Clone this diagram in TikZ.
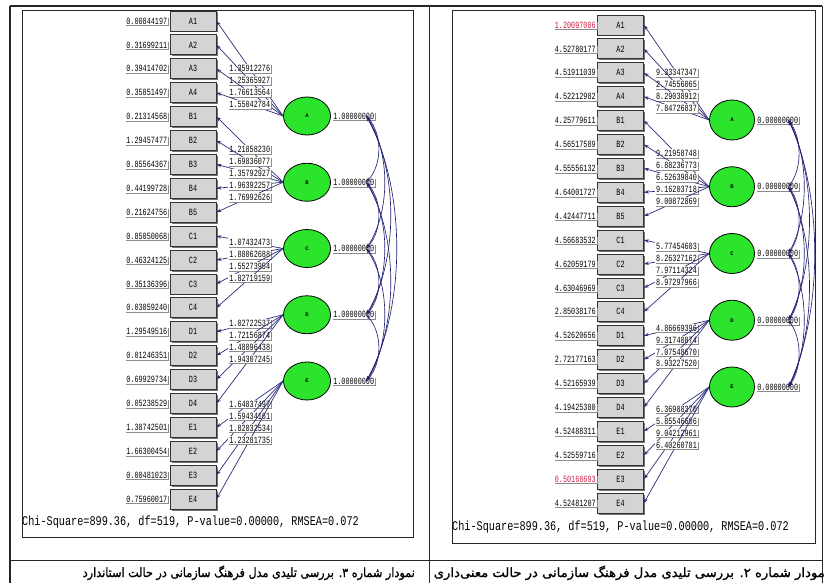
\documentclass[tikz,border=0pt]{standalone}
\usepackage{fontspec}
\setmainfont{Liberation Serif}
\setmonofont{Liberation Mono}
\newfontfamily\arabicfont[Script=Arabic,FakeBold=1.2]{DejaVu Sans}
\usetikzlibrary{shapes.geometric,arrows.meta,shadows,calc}
\TeXXeTstate=1
\definecolor{navy}{RGB}{45,45,125}
\definecolor{covc}{RGB}{35,35,115}
\definecolor{boxfill}{RGB}{212,212,212}
\definecolor{latgreen}{RGB}{45,228,45}
\definecolor{redval}{RGB}{205,30,70}
\newcommand{\tn}[1]{\scalebox{1}[1.4]{\fontsize{6.8}{7}\ttfamily #1}}
\tikzset{
  indbox/.style={draw=black!80, fill=boxfill, line width=0.8pt, minimum width=46pt, minimum height=20pt, inner sep=0pt,
    general shadow={fill=black!55, shadow xshift=1.5pt, shadow yshift=-1.5pt}},
  numlab/.style={fill=white, inner sep=1.1pt,
    general shadow={fill=black!45, shadow xshift=1pt, shadow yshift=-1pt}},
  lat/.style={ellipse, draw=black, fill=latgreen, line width=0.8pt, inner sep=0pt,
    font=\fontsize{5.5}{5.5}\ttfamily\bfseries},
  ldpath/.style={draw=navy, line width=0.7pt, -{Stealth[length=5pt,width=3.4pt]}},
  covpath/.style={draw=covc, line width=0.65pt, {Stealth[length=5pt,width=3.4pt]}-{Stealth[length=5pt,width=3.4pt]}},
  framel/.style={draw=black!85, line width=0.8pt},
}
\begin{document}
\begin{tikzpicture}[x=1pt,y=-1pt]
\useasboundingbox (0,0) rectangle (825,583);
% table lines
\draw[framel, line width=1.1pt] (10,6) -- (822,6);
\draw[framel, line width=1.1pt] (10,6) -- (10,583);
\draw[framel] (429,6) -- (429,583);
\draw[framel] (822,6) -- (822,583);
\draw[framel] (10,560) -- (822,560);
% inner frames
\draw[framel] (22,10) rectangle (413,537);
\draw[framel] (452,10) rectangle (815,543);

% ================= LEFT PANEL =================
\foreach \nm/\v [count=\i from 0] in {A1/0.00844197,A2/0.31699211,A3/0.39414702,A4/0.35851497,
  B1/0.21314568,B2/1.29457477,B3/0.85564367,B4/0.44199728,B5/0.21624756,
  C1/0.85050068,C2/0.46324125,C3/0.35136396,C4/0.03059240,
  D1/1.29549516,D2/0.01246351,D3/0.69929734,D4/0.05238529,
  E1/1.38742501,E2/1.66300454,E3/0.00481023,E4/0.75960017}{
  \node[indbox] (L\nm) at (193,{21+23.9*\i}) {\tn{\nm}};
  \node[numlab, anchor=east] (Le\nm) at (168.5,{21+23.9*\i}) {\tn{\v}};
}
\foreach \l [count=\k from 0] in {A,B,C,D,E}{
  \node[lat, minimum width=47pt, minimum height=38pt] (L\l) at (307,{116+66.25*\k}) {\l};
  \node[numlab, anchor=west] (Lv\l) at (332,{116+66.25*\k}) {\tn{1.00000000}};
  \coordinate (Lc\l) at ($(Lv\l.east)+(-9,0)$);
}
\foreach \l/\nm/\v in {A/A1/1.35912276,A/A2/1.25365927,A/A3/1.76613564,A/A4/1.55042784,
  B/B1/1.21858230,B/B2/1.69836077,B/B3/1.35792927,B/B4/1.96392257,B/B5/1.76992626,
  C/C1/1.07432473,C/C2/1.88062688,C/C3/1.55273954,C/C4/1.82719159,
  D/D1/1.02722537,D/D2/1.72156874,D/D3/1.48096438,D/D4/1.94307245,
  E/E1/1.64837497,E/E2/1.59434161,E/E3/1.82032534,E/E4/1.23281735}{
  \draw[ldpath] (L\l.west) -- node[numlab] {\tn{\v}} (L\nm.east);
}
\foreach \p/\q/\s in {A/B/1,A/C/2,A/D/3,A/E/4,B/C/1,B/D/2,B/E/3,C/D/1,C/E/2,D/E/1}{
  \pgfmathsetmacro\bb{(6+6*\s)/0.75}
  \pgfmathsetmacro\dd{66.25*\s*0.28}
  \draw[covpath] (Lc\p) .. controls +(\bb,\dd) and +(\bb,-\dd) .. (Lc\q);
}
\node[anchor=west, inner sep=0] (chiL) at (22,522)
  {\scalebox{1}[1.3]{\fontsize{10.2}{12}\ttfamily Chi-Square=899.36, df=519, P-value=0.00000, RMSEA=0.072}};

% ================= RIGHT PANEL =================
\foreach \nm/\v/\c [count=\i from 0] in {A1/1.20097006/redval,A2/4.52780177/black,A3/4.51911039/black,A4/4.52212982/black,
  B1/4.25779611/black,B2/4.56517589/black,B3/4.55556132/black,B4/4.64001727/black,B5/4.42447711/black,
  C1/4.56683532/black,C2/4.62059179/black,C3/4.63046969/black,C4/2.85038176/black,
  D1/4.52620656/black,D2/2.72177163/black,D3/4.52165939/black,D4/4.19425380/black,
  E1/4.52488311/black,E2/4.52559716/black,E3/0.50168693/redval,E4/4.52481207/black}{
  \node[indbox] (R\nm) at (620.5,{25+23.9*\i}) {\tn{\nm}};
  \node[numlab, anchor=east, text=\c] (Re\nm) at (597,{25+23.9*\i}) {\tn{\v}};
}
\foreach \l [count=\k from 0] in {A,B,C,D,E}{
  \node[lat, minimum width=45pt, minimum height=40pt] (R\l) at (732,{120+66.75*\k}) {\l};
  \node[numlab, anchor=west] (Rv\l) at (756,{120+66.75*\k}) {\tn{0.00000000}};
  \coordinate (Rc\l) at ($(Rv\l.east)+(-11,0)$);
}
\foreach \l/\nm/\v in {A/A1/9.33347347,A/A2/2.74556065,A/A3/8.29038912,A/A4/7.84726837,
  B/B1/9.21958748,B/B2/6.88236773,B/B3/6.52639840,B/B4/9.16203718,B/B5/9.00872869,
  C/C1/5.77454603,C/C2/8.26327162,C/C3/7.97114324,C/C4/8.97297966,
  D/D1/4.86669396,D/D2/9.31740874,D/D3/7.07548670,D/D4/8.93227520,
  E/E1/6.36988370,E/E2/5.85546606,E/E3/9.04212961,E/E4/6.40260781}{
  \draw[ldpath] (R\l.west) -- node[numlab] {\tn{\v}} (R\nm.east);
}
\foreach \p/\q/\s in {A/B/1,A/C/2,A/D/3,A/E/4,B/C/1,B/D/2,B/E/3,C/D/1,C/E/2,D/E/1}{
  \pgfmathsetmacro\bb{(5+5.25*\s)/0.75}
  \pgfmathsetmacro\dd{66.75*\s*0.28}
  \draw[covpath] (Rc\p) .. controls +(\bb,\dd) and +(\bb,-\dd) .. (Rc\q);
}
\node[anchor=west, inner sep=0] (chiR) at (452,527)
  {\scalebox{1}[1.3]{\fontsize{10.2}{12}\ttfamily Chi-Square=899.36, df=519, P-value=0.00000, RMSEA=0.072}};

% ================= CAPTIONS =================
\node[anchor=base east, inner sep=0] (capL) at (415,577)
  {\resizebox{332pt}{11.5pt}{\arabicfont\beginR نمودار شماره ۳. بررسی تلیدی مدل فرهنگ سازمانی در حالت استاندارد\endR}};
\node[anchor=base east, inner sep=0] (capR) at (825,577)
  {\resizebox{391pt}{11.5pt}{\arabicfont\beginR مودار شماره ۲. بررسی تلیدی مدل فرهنگ سازمانی در حالت معنی^^^^200cداری\endR}};
\end{tikzpicture}
\end{document}
